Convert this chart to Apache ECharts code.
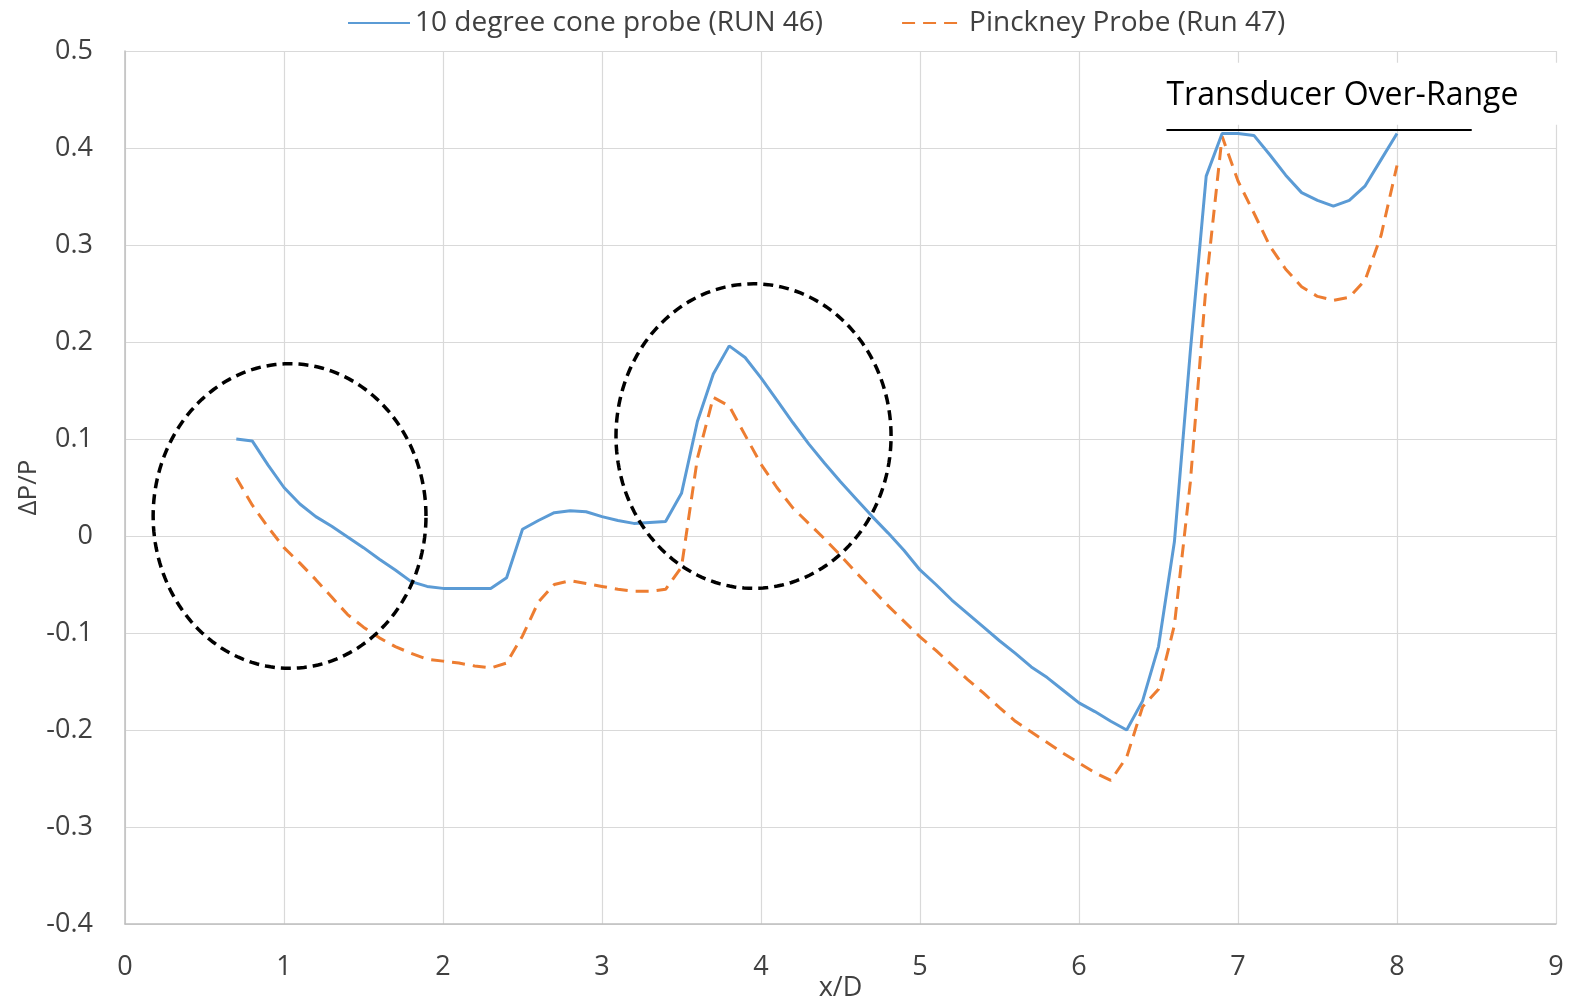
<!DOCTYPE html>
<html>
<head>
<meta charset="utf-8">
<script src="https://cdn.jsdelivr.net/npm/echarts@6/dist/echarts.min.js"></script>
<style>
html,body{margin:0;padding:0;background:#fff;}
#chart{width:1574px;height:1001px;}
</style>
</head>
<body>
<div id="chart"></div>
<script>
// x/D positions
const xD = [0.7,0.8,0.9,1.0,1.1,1.2,1.3,1.4,1.5,1.6,1.7,1.8,1.9,2.0,2.1,2.2,2.3,2.4,2.5,2.6,
  2.7,2.8,2.9,3.0,3.1,3.2,3.3,3.4,3.5,3.6,3.7,3.8,3.9,4.0,4.1,4.2,4.3,4.4,4.5,4.6,
  4.7,4.8,4.9,5.0,5.1,5.2,5.3,5.4,5.5,5.6,5.7,5.8,5.9,6.0,6.1,6.2,6.3,6.4,6.5,6.6,
  6.7,6.8,6.9,7.0,7.1,7.2,7.3,7.4,7.5,7.6,7.7,7.8,7.9,8.0];

// 10 degree cone probe (RUN 46)
const coneRun46 = [0.100,0.098,0.073,0.050,0.033,0.020,0.010,-0.001,-0.012,-0.024,
  -0.035,-0.047,-0.052,-0.054,-0.054,-0.054,-0.054,-0.043,0.007,0.016,
  0.024,0.026,0.025,0.020,0.016,0.013,0.014,0.015,0.044,0.118,
  0.167,0.196,0.184,0.163,0.140,0.117,0.095,0.075,0.056,0.038,
  0.020,0.003,-0.015,-0.035,-0.050,-0.066,-0.080,-0.094,-0.108,-0.121,
  -0.135,-0.146,-0.159,-0.172,-0.181,-0.191,-0.200,-0.170,-0.114,-0.006,
  0.190,0.371,0.415,0.415,0.413,0.393,0.372,0.354,0.346,0.340,
  0.346,0.361,0.388,0.415];

// Pinckney Probe (Run 47)
const pinckneyRun47 = [0.060,0.032,0.009,-0.012,-0.028,-0.045,-0.063,-0.081,-0.094,-0.105,
  -0.114,-0.121,-0.127,-0.129,-0.131,-0.134,-0.136,-0.131,-0.103,-0.068,
  -0.050,-0.046,-0.049,-0.052,-0.055,-0.057,-0.057,-0.055,-0.032,0.080,
  0.143,0.134,0.104,0.074,0.050,0.029,0.013,-0.003,-0.020,-0.038,
  -0.055,-0.072,-0.088,-0.104,-0.118,-0.133,-0.148,-0.162,-0.177,-0.191,
  -0.202,-0.213,-0.224,-0.234,-0.244,-0.252,-0.228,-0.176,-0.158,-0.092,
  0.055,0.260,0.412,0.366,0.333,0.299,0.275,0.257,0.247,0.243,
  0.246,0.264,0.310,0.382];

const seriesNames = ['10 degree cone probe (RUN 46)', 'Pinckney Probe (Run 47)'];
const xTicks = [0,1,2,3,4,5,6,7,8,9];
const yTicks = [-0.4,-0.3,-0.2,-0.1,0,0.1,0.2,0.3,0.4,0.5];

// highlighted regions (data coords: center x, center y, radius x, radius y)
const circledRegions = [[1.035, 0.0206, 0.858, 0.157], [3.953, 0.103, 0.865, 0.157]];
const overRangeLabel = 'Transducer Over-Range';

const FONT = '"Open Sans", "Noto Sans", sans-serif';
const TXT = '#404040';

const chart = echarts.init(document.getElementById('chart'), null, {renderer: 'canvas'});

function zip(xs, ys) { return xs.map((x, i) => [x, ys[i]]); }

const option = {
  animation: false,
  backgroundColor: '#fff',
  grid: {left: 125, right: 18, top: 51, bottom: 77, containLabel: false, outerBoundsMode: 'none'},
  legend: {
    data: seriesNames,
    left: 342, top: 4,
    itemWidth: 62, itemHeight: 14, itemGap: 78,
    itemStyle: {opacity: 0},
    textStyle: {fontFamily: FONT, fontSize: 28, color: TXT}
  },
  xAxis: {
    type: 'value', min: xTicks[0], max: xTicks[xTicks.length - 1], interval: 1,
    name: 'x/D', nameLocation: 'middle', nameGap: 51, nameMoveOverlap: false,
    nameTextStyle: {fontFamily: FONT, fontSize: 27, color: TXT},
    axisLine: {show: true, onZero: false, lineStyle: {color: '#bfbfbf', width: 1.5}},
    axisTick: {show: false},
    axisLabel: {fontFamily: FONT, fontSize: 27, color: TXT, margin: 30},
    splitLine: {show: true, lineStyle: {color: '#d9d9d9', width: 1.2}}
  },
  yAxis: {
    type: 'value', min: yTicks[0], max: yTicks[yTicks.length - 1], interval: 0.1,
    name: 'ΔP/P', nameLocation: 'middle', nameGap: 83, nameRotate: 90, nameMoveOverlap: false,
    nameTextStyle: {fontFamily: FONT, fontSize: 26, color: TXT},
    axisLine: {show: true, onZero: false, lineStyle: {color: '#bfbfbf', width: 1.5}},
    axisTick: {show: false},
    axisLabel: {fontFamily: FONT, fontSize: 27, color: TXT, margin: 32,
      formatter: v => String(Number(v.toFixed(1)))},
    splitLine: {show: true, lineStyle: {color: '#d9d9d9', width: 1.2}}
  },
  series: [
    {
      type: 'custom', name: 'overRange', silent: true, clip: false, z: 3,
      data: [[6.41, 0.488, 9.2, 0.424, 6.55, 0.4536, 8.47, 0.4186]],
      renderItem: function (params, api) {
        const b1 = api.coord([api.value(0), api.value(1)]);
        const b2 = api.coord([api.value(2), api.value(3)]);
        const t = api.coord([api.value(4), api.value(5)]);
        const l2 = api.coord([api.value(6), api.value(7)]);
        return {
          type: 'group',
          children: [
            {type: 'rect', shape: {x: b1[0], y: b1[1], width: b2[0] - b1[0], height: b2[1] - b1[1]},
             style: {fill: '#fff'}},
            {type: 'text', x: t[0], y: t[1],
             style: {text: overRangeLabel, fill: '#000', font: '32px ' + FONT, verticalAlign: 'middle', align: 'left'}},
            {type: 'line', shape: {x1: t[0], y1: l2[1], x2: l2[0], y2: l2[1]},
             style: {stroke: '#000', lineWidth: 2}}
          ]
        };
      }
    },
    {
      name: seriesNames[0], type: 'line', data: zip(xD, coneRun46),
      symbol: 'none', showSymbol: false, z: 5,
      lineStyle: {color: '#5B9BD5', width: 3},
      itemStyle: {color: '#5B9BD5'}
    },
    {
      name: seriesNames[1], type: 'line', data: zip(xD, pinckneyRun47),
      symbol: 'none', showSymbol: false, z: 4,
      lineStyle: {color: '#ED7D31', width: 3, type: [13, 8]},
      itemStyle: {color: '#ED7D31'}
    },
    {
      type: 'custom', name: 'circles', silent: true, clip: false, z: 6,
      data: circledRegions,
      renderItem: function (params, api) {
        const cx = api.value(0), cy = api.value(1), rx = api.value(2), ry = api.value(3);
        const pts = [];
        const N = 180;
        for (let i = 0; i < N; i++) {
          const a = 2 * Math.PI * i / N;
          pts.push(api.coord([cx + rx * Math.cos(a), cy + ry * Math.sin(a)]));
        }
        return {
          type: 'polygon', shape: {points: pts},
          style: {fill: 'none', stroke: '#000', lineWidth: 3.5, lineDash: [10, 6]}
        };
      }
    }
  ]
};
chart.setOption(option);
</script>
</body>
</html>
